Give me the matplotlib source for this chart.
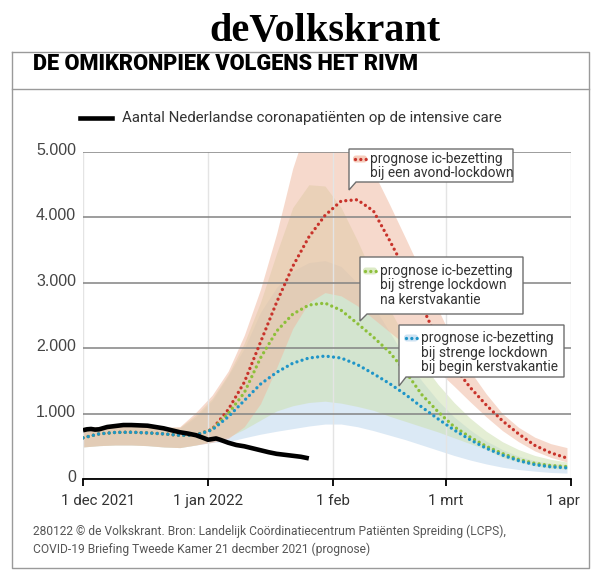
import matplotlib
matplotlib.use("Agg")
import matplotlib.pyplot as plt
import numpy as np
from matplotlib import transforms
from matplotlib.patches import Polygon, FancyBboxPatch
from matplotlib.lines import Line2D

# ---- data (days since 1 dec 2021) ----
proj_days = np.arange(0, 121, 4)

blue_line = [630, 690, 712, 715, 705, 690, 668, 672, 750, 950, 1200, 1450, 1630, 1770,
             1850, 1880, 1850, 1750, 1610, 1460, 1290, 1100, 920, 750, 600, 470, 365,
             280, 220, 185, 170]
green_line = [630, 690, 712, 715, 705, 690, 668, 672, 755, 1000, 1320, 1850, 2260, 2520,
              2660, 2690, 2580, 2380, 2170, 1940, 1640, 1290, 1030, 800, 640, 500, 390,
              300, 240, 205, 190]
red_line = [630, 690, 712, 715, 705, 690, 668, 672, 760, 1060, 1480, 2090, 2700, 3250,
            3700, 4030, 4250, 4270, 4100, 3650, 3180, 2650, 2120, 1720, 1400, 1130, 890,
            690, 515, 400, 320]

red_hi = [790, 800, 810, 810, 800, 790, 800, 1020, 1280, 1650, 2200, 2900, 3750, 4750,
          5500, 5800, 5600, 5150, 4700, 4200, 3680, 3150, 2600, 2080, 1650, 1300, 1000,
          790, 640, 540, 480]
red_lo = [490, 510, 520, 520, 510, 490, 480, 520, 560, 620, 800, 1150, 1700, 2300,
          2700, 2850, 2800, 2650, 2450, 2250, 2050, 1850, 1650, 1420, 1180, 950, 740,
          570, 430, 330, 260]
green_hi = [790, 800, 810, 810, 800, 790, 790, 980, 1230, 1600, 2080, 2700, 3450, 4150,
            4500, 4480, 4150, 3650, 3100, 2600, 2150, 1780, 1450, 1170, 930, 730, 570,
            450, 360, 300, 260]
green_lo = [490, 510, 520, 520, 510, 490, 480, 520, 580, 640, 760, 900, 1040, 1120,
            1170, 1190, 1160, 1110, 1050, 960, 880, 800, 720, 630, 540, 450, 330,
            260, 200, 165, 150]
blue_hi = [790, 800, 810, 810, 800, 790, 780, 950, 1200, 1580, 2000, 2550, 2930, 3180,
           3310, 3340, 3250, 3000, 2650, 2250, 1850, 1500, 1200, 950, 750, 580, 450,
           350, 280, 240, 220]
blue_lo = [490, 510, 520, 520, 510, 490, 480, 520, 560, 570, 630, 685, 730, 770,
           810, 840, 840, 800, 740, 670, 600, 520, 440, 360, 290, 230, 180,
           145, 120, 100, 90]

ic_days = [0, 1, 2, 3, 4, 6, 8, 10, 12, 14, 16, 18, 20, 22, 24, 26, 28, 30, 31, 32,
           33, 34, 36, 38, 40, 42, 44, 46, 48, 50, 52, 54, 56]
ic_vals = [745, 760, 765, 755, 760, 795, 810, 825, 825, 820, 815, 795, 775, 745, 715,
           695, 670, 625, 600, 610, 620, 600, 555, 520, 500, 470, 440, 410, 385, 370,
           355, 340, 315]

month_days = [0, 31, 62, 90, 121]
month_labels = ["1 dec 2021", "1 jan 2022", "1 feb", "1 mrt", "1 apr"]
y_ticks = [0, 1000, 2000, 3000, 4000, 5000]
y_labels = ["0", "1.000", "2.000", "3.000", "4.000", "5.000"]

RED, GREEN, BLUE = "#c8332b", "#8dbf3a", "#1f95c8"
PINK_F, GREEN_F, BLUE_F = "#f0baa2", "#cee0b1", "#a7c8e6"
SANS = "Roboto"
TXT = "#333333"

W, H = 600, 577
fig = plt.figure(figsize=(6.0, 5.77), dpi=100)


def fx(px):
    return px / W


def fy(py):
    return 1 - py / H


# ---- frame, logo, title ----
frame = dict(color="#9a9a9a", lw=1.0, transform=fig.transFigure)
fig.add_artist(Line2D([fx(12), fx(589), fx(589), fx(12), fx(12)],
                      [fy(52), fy(52), fy(568), fy(568), fy(52)], **frame))
fig.add_artist(Line2D([fx(12), fx(589)], [fy(89), fy(89)], **frame))
fig.text(fx(325), fy(31), "deVolkskrant", family="Liberation Serif", weight="bold",
         fontsize=29, ha="center", va="center", color="black")
fig.text(fx(33), fy(64), "DE OMIKRONPIEK VOLGENS HET RIVM", family="Roboto",
         weight="black", fontsize=15.7, ha="left", va="center", color="black")

# legend for measured line
fig.add_artist(Line2D([fx(80), fx(112)], [fy(118), fy(118)], color="black", lw=3.3,
                      transform=fig.transFigure))
fig.text(fx(122), fy(118), "Aantal Nederlandse coronapatiënten op de intensive care",
         family=SANS, fontsize=10.8, ha="left", va="center", color=TXT)

# ---- chart ----
ax = fig.add_axes([fx(83), fy(479), (571 - 83) / W, (479 - 152) / H])
ax.fill_between(proj_days, blue_lo, blue_hi, color=BLUE_F, alpha=0.4, lw=0)
ax.fill_between(proj_days, green_lo, green_hi, color=GREEN_F, alpha=0.55, lw=0)
ax.fill_between(proj_days, red_lo, red_hi, color=PINK_F, alpha=0.55, lw=0)

dot = dict(lw=2.4, linestyle=(0, (0.001, 1.6)), dash_capstyle="round", zorder=3)
ax.plot(proj_days, red_line, color=RED, **dot)
ax.plot(proj_days, green_line, color=GREEN, **dot)
ax.plot(proj_days, blue_line, color=BLUE, **dot)
ax.plot(ic_days, ic_vals, color="black", lw=3.3, solid_capstyle="butt", zorder=4)

ax.set_xlim(0, 121)
ax.set_ylim(0, 5000)
ax.set_axisbelow("line")
ax.set_yticks(y_ticks)
ax.set_yticklabels(y_labels)
ax.set_xticks(month_days)
ax.set_xticklabels(month_labels)
ax.yaxis.grid(True, color="#838383", lw=1.1)
ax.xaxis.grid(True, color="#e4e4e4", lw=1.0)
for s in ["left", "right", "top"]:
    ax.spines[s].set_visible(False)
ax.spines["bottom"].set_color("black")
ax.spines["bottom"].set_linewidth(1.3)
ax.spines["bottom"].set_zorder(5)
ax.tick_params(axis="y", length=0, pad=5, labelsize=11.5, labelcolor="#444444")
ax.tick_params(axis="x", length=5, width=1.3, color="black", pad=6, labelsize=10.8,
               labelcolor=TXT)
for lab in ax.get_yticklabels():
    lab.set_family("Liberation Sans")
    lab.set_transform(lab.get_transform() +
                      transforms.ScaledTranslation(0, 3 / 100, fig.dpi_scale_trans))
xl = ax.get_xticklabels()
for lab in xl:
    lab.set_family(SANS)
xl[0].set_transform(xl[0].get_transform() +
                    transforms.ScaledTranslation(15 / 100, 0, fig.dpi_scale_trans))
xl[-1].set_transform(xl[-1].get_transform() +
                     transforms.ScaledTranslation(-8 / 100, 0, fig.dpi_scale_trans))


# ---- callouts ----
def callout(x0, y0, x1, y1, tip, color, fill, lines, tx, ty0, step):
    poly = Polygon([(fx(x0), fy(y0)), (fx(x1), fy(y0)), (fx(x1), fy(y1)),
                    (fx(x0 + 7), fy(y1)), (fx(x0), fy(tip)), (fx(x0), fy(y0))],
                   closed=True, facecolor="white", edgecolor="#6e6e6e", lw=1.0,
                   transform=fig.transFigure, zorder=6)
    fig.add_artist(poly)
    fig.add_artist(FancyBboxPatch((fx(tx - 17), fy(ty0 + 3.5)), 14 / W, 7 / H,
                                  boxstyle="round,pad=0,rounding_size=0.005",
                                  facecolor=fill, edgecolor="none",
                                  transform=fig.transFigure, zorder=7))
    fig.add_artist(Line2D([fx(tx - 15), fx(tx - 4)], [fy(ty0), fy(ty0)], color=color,
                          lw=2.4, linestyle=(0, (0.001, 1.6)), dash_capstyle="round",
                          transform=fig.transFigure, zorder=8))
    for i, t in enumerate(lines):
        fig.text(fx(tx), fy(ty0 + i * step), t, family=SANS, fontsize=9.9,
                 ha="left", va="center", color=TXT, zorder=8)


callout(349, 149, 513, 182, 190, RED, "#f6cdbd",
        ["prognose ic-bezetting", "bij een avond-lockdown"], 370, 159, 14.5)
callout(360, 257, 523, 314, 321, GREEN, "#dcebc6",
        ["prognose ic-bezetting", "bij strenge lockdown", "na kerstvakantie"], 380, 271, 14.5)
callout(399, 325, 564, 377, 386, BLUE, "#cfe3f3",
        ["prognose ic-bezetting", "bij strenge lockdown", "bij begin kerstvakantie"],
        421, 338, 14.5)

# ---- footnote ----
fig.text(fx(33), fy(531), "280122 © de Volkskrant. Bron: Landelijk Coördinatiecentrum "
         "Patiënten Spreiding (LCPS),", family=SANS, fontsize=8.65, ha="left",
         va="center", color="#555555")
fig.text(fx(33), fy(549), "COVID-19 Briefing Tweede Kamer 21 decmber 2021 (prognose)",
         family=SANS, fontsize=8.65, ha="left", va="center", color="#555555")

fig.savefig("out.png", dpi=100)
